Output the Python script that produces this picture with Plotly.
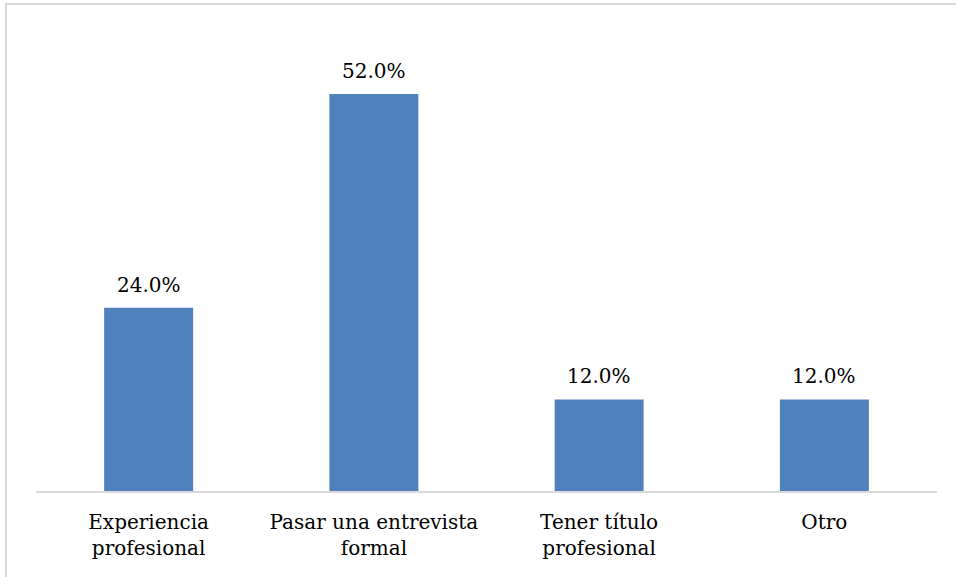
import plotly.graph_objects as go

categories = ["Experiencia<br>profesional", "Pasar una entrevista<br>formal", "Tener título<br>profesional", "Otro"]
values = [0.24, 0.52, 0.12, 0.12]

W, H = 956, 577
L, R, T, B = 36, 19, 33, 86
FONT = "DejaVu Serif"

fig = go.Figure(go.Bar(
    x=categories, y=values,
    marker=dict(color="#4F81BD", line=dict(width=0)),
    cliponaxis=False, hoverinfo="x+y",
))

for c, v in zip(categories, values):
    fig.add_annotation(x=c, y=v, text=f"{v:.1%}", showarrow=False,
                       xref="x", yref="y", yanchor="bottom", yshift=9,
                       font=dict(family=FONT, size=20, color="#000000"))

pw = W - L - R
ph = H - T - B
fig.add_shape(type="rect", xref="paper", yref="paper",
              x0=(6 - L) / pw, x1=(W + 5 - L) / pw,
              y0=-(B + 5) / ph, y1=(H - B - 4) / ph,
              line=dict(color="#D9D9D9", width=2), layer="below")

fig.update_layout(
    width=W, height=H,
    margin=dict(l=L, r=R, t=T, b=B),
    paper_bgcolor="white", plot_bgcolor="white",
    bargap=0.605, showlegend=False,
    font=dict(family=FONT, size=20, color="#000000"),
)
fig.update_xaxes(showline=True, linecolor="#D9D9D9", linewidth=2,
                 ticks="outside", ticklen=12, tickcolor="rgba(0,0,0,0)",
                 tickfont=dict(family=FONT, size=20))
fig.update_yaxes(range=[0, 0.60], visible=False, showgrid=False, zeroline=False)

fig.write_html("out.html", config={"displayModeBar": False},
               post_script="document.body.style.margin='0';")
